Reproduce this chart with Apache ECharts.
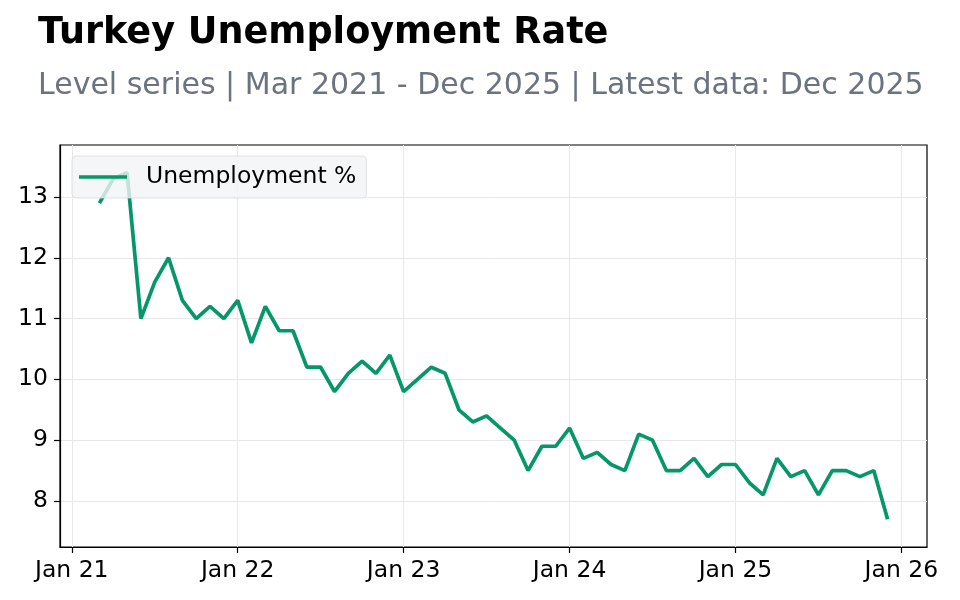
<!DOCTYPE html>
<html>
<head>
<meta charset="utf-8">
<title>Turkey Unemployment Rate</title>
<script src="https://cdn.jsdelivr.net/npm/echarts@6/dist/echarts.min.js"></script>
<style>
  html, body { margin: 0; padding: 0; background: #fff; }
  #chart { width: 960px; height: 600px; }
</style>
</head>
<body>
<div id="chart"></div>
<script>
// monthly readings, Mar 2021 .. Dec 2025
var months = [
  '2021-03','2021-04','2021-05','2021-06','2021-07','2021-08','2021-09','2021-10','2021-11','2021-12',
  '2022-01','2022-02','2022-03','2022-04','2022-05','2022-06','2022-07','2022-08','2022-09','2022-10','2022-11','2022-12',
  '2023-01','2023-02','2023-03','2023-04','2023-05','2023-06','2023-07','2023-08','2023-09','2023-10','2023-11','2023-12',
  '2024-01','2024-02','2024-03','2024-04','2024-05','2024-06','2024-07','2024-08','2024-09','2024-10','2024-11','2024-12',
  '2025-01','2025-02','2025-03','2025-04','2025-05','2025-06','2025-07','2025-08','2025-09','2025-10','2025-11','2025-12'
];
var unemployment = [
  12.9, 13.3, 13.4, 11.0, 11.6, 12.0, 11.3, 11.0, 11.2, 11.0,
  11.3, 10.6, 11.2, 10.8, 10.8, 10.2, 10.2, 9.8, 10.1, 10.3, 10.1, 10.4,
  9.8, 10.0, 10.2, 10.1, 9.5, 9.3, 9.4, 9.2, 9.0, 8.5, 8.9, 8.9,
  9.2, 8.7, 8.8, 8.6, 8.5, 9.1, 9.0, 8.5, 8.5, 8.7, 8.4, 8.6,
  8.6, 8.3, 8.1, 8.7, 8.4, 8.5, 8.1, 8.5, 8.5, 8.4, 8.5, 7.7
];
var xTickLabels = ['Jan 21', 'Jan 22', 'Jan 23', 'Jan 24', 'Jan 25', 'Jan 26'];
var yTicks = [8, 9, 10, 11, 12, 13];

// months counted from Jan 2021
function monthIndex(s) {
  var p = s.split('-');
  return (parseInt(p[0], 10) - 2021) * 12 + parseInt(p[1], 10) - 1;
}
function tickIndex(lbl) {
  return (parseInt(lbl.slice(4), 10) - 21) * 12;
}

var points = months.map(function (m, i) { return [monthIndex(m), unemployment[i]]; });
var xTicks = xTickLabels.map(tickIndex);

var font = 'DejaVu Sans';
var green = '#059669';
var myChart = echarts.init(document.getElementById('chart'), null, { renderer: 'canvas' });

myChart.setOption({
  animation: false,
  backgroundColor: '#ffffff',
  title: [
    {
      text: 'Turkey Unemployment Rate',
      left: 33, top: 10,
      textStyle: { fontFamily: font, fontSize: 36.6, fontWeight: 'bold', color: '#000' }
    },
    {
      text: 'Level series | Mar 2021 - Dec 2025 | Latest data: Dec 2025',
      left: 33, top: 66,
      textStyle: { fontFamily: font, fontSize: 30, fontWeight: 'normal', color: '#6b7280' }
    }
  ],
  legend: {
    left: 72, top: 156,
    padding: [9, 10, 9, 7],
    icon: 'rect',
    itemWidth: 48, itemHeight: 3.5,
    backgroundColor: 'rgba(243,244,246,0.8)',
    borderColor: 'rgba(220,220,220,0.8)',
    borderWidth: 1,
    borderRadius: 4,
    textStyle: { fontFamily: font, fontSize: 23.5, color: '#000', padding: [2, 0, 0, 14] },
    data: ['Unemployment %']
  },
  grid: {
    left: 60, right: 33, top: 145, bottom: 53,
    show: true, borderColor: '#000', borderWidth: 1.2
  },
  xAxis: {
    type: 'value',
    min: -0.85, max: 61.85,
    axisLine: { show: true, onZero: false, lineStyle: { color: '#000', width: 1.2 } },
    axisTick: { show: true, length: 6, customValues: xTicks, lineStyle: { color: '#000', width: 1.2 } },
    axisLabel: {
      customValues: xTicks, margin: 12,
      fontFamily: font, fontSize: 23.5, color: '#000',
      formatter: function (v) { return xTickLabels[xTicks.indexOf(v)] || ''; }
    },
    splitLine: { show: true, lineStyle: { color: '#e8e8e8', width: 1 } }
  },
  yAxis: {
    type: 'value',
    min: 7.243, max: 13.855,
    axisLine: { show: true, onZero: false, lineStyle: { color: '#000', width: 1.2 } },
    axisTick: { show: true, length: 6, customValues: yTicks, lineStyle: { color: '#000', width: 1.2 } },
    axisLabel: {
      customValues: yTicks, margin: 12,
      fontFamily: font, fontSize: 23.5, color: '#000'
    },
    splitLine: { show: true, lineStyle: { color: '#e8e8e8', width: 1 } }
  },
  series: [
    {
      name: 'Unemployment %',
      type: 'line',
      symbol: 'none',
      lineStyle: { color: green, width: 3.7 },
      itemStyle: { color: green },
      data: points
    }
  ]
});
</script>
</body>
</html>
